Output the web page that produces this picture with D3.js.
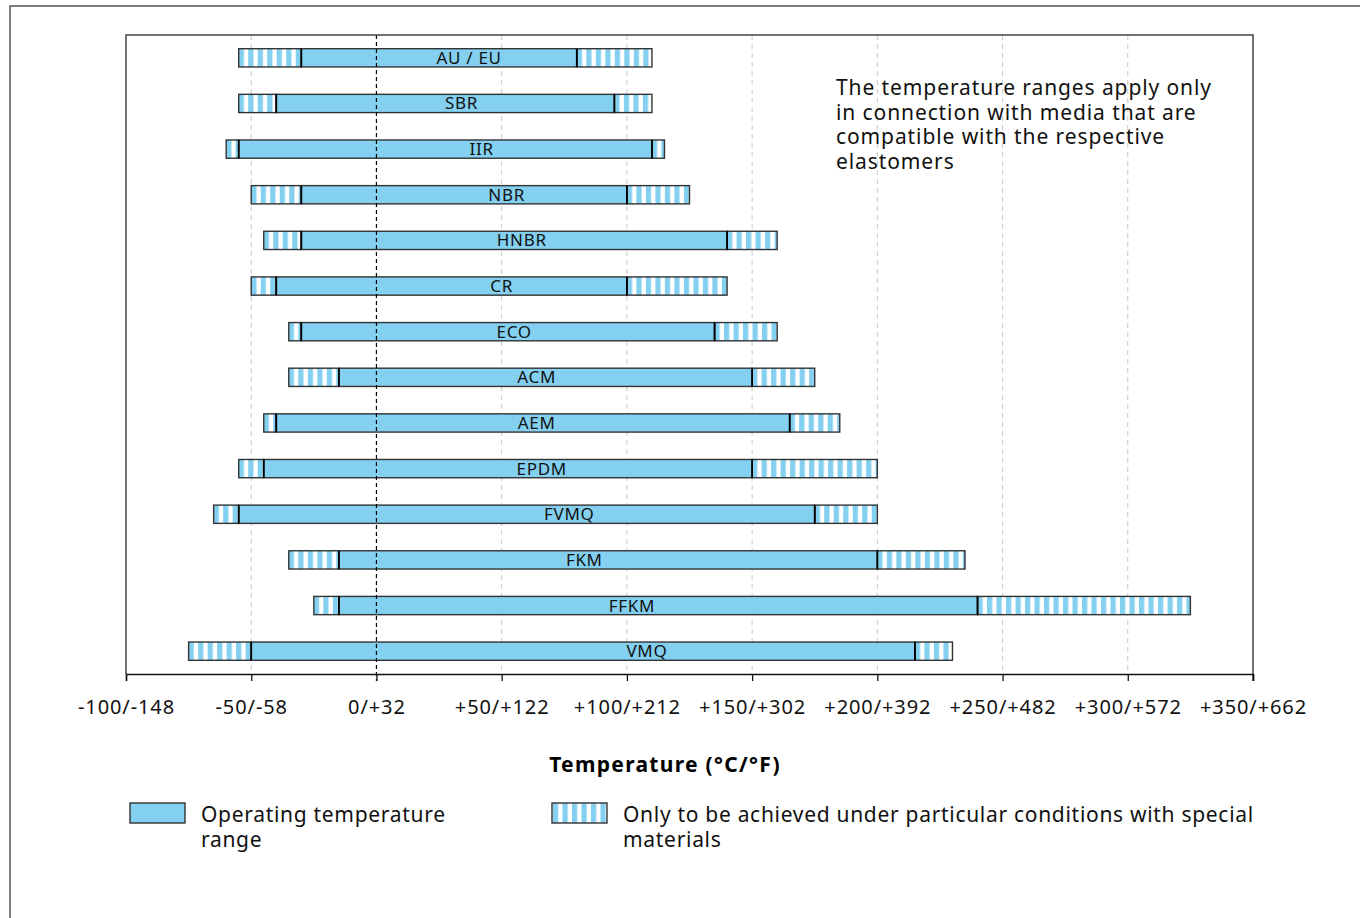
<!DOCTYPE html>
<html>
<head>
<meta charset="utf-8">
<script src="https://cdn.jsdelivr.net/npm/d3@7"></script>
<style>
  body { margin: 0; background: #fff; }
  svg { display: block; font-family: "Noto Sans", "Open Sans", sans-serif; }
</style>
</head>
<body>
<svg id="chart" width="1360" height="918"></svg>
<script>
// elastomer temperature ranges in °C
const materials = ["AU / EU", "SBR", "IIR", "NBR", "HNBR", "CR", "ECO", "ACM", "AEM", "EPDM", "FVMQ", "FKM", "FFKM", "VMQ"];
const specialLow = [-55, -55, -60, -50, -45, -50, -35, -35, -45, -55, -65, -35, -25, -75];
const operatingLow = [-30, -40, -55, -30, -30, -40, -30, -15, -40, -45, -55, -15, -15, -50];
const operatingHigh = [80, 95, 110, 100, 140, 100, 135, 150, 165, 150, 175, 200, 240, 215];
const specialHigh = [110, 110, 115, 125, 160, 140, 160, 175, 185, 200, 200, 235, 325, 230];
// where the name sits along each bar (°C)
const labelAt = [37, 34, 42, 52, 58, 50, 55, 64, 64, 66, 77, 83, 102, 108];

const tickValues = [-100, -50, 0, 50, 100, 150, 200, 250, 300, 350];
const tickLabels = ["-100/-148", "-50/-58", "0/+32", "+50/+122", "+100/+212", "+150/+302",
                    "+200/+392", "+250/+482", "+300/+572", "+350/+662"];

const note = ["The temperature ranges apply only", "in connection with media that are",
              "compatible with the respective", "elastomers"];
const legendItems = [
    { kind: "operating", lines: ["Operating temperature", "range"] },
    { kind: "special", lines: ["Only to be achieved under particular conditions with special", "materials"] },
];

const blue = "#83d0f0";
const edge = "#333";

const svg = d3.select("#chart");
const defs = svg.append("defs");

const plot = { left: 126, right: 1253, top: 35, bottom: 674 };

const x = d3.scaleLinear().domain([-100, 350]).range([plot.left, plot.right]);
const y = d3.scaleBand().domain(materials).range([plot.top, plot.bottom])
    .paddingInner(0.6).paddingOuter(0.3);

// outer frame (runs off the page to the right and bottom)
svg.append("rect")
    .attr("x", 10).attr("y", 6)
    .attr("width", 1400).attr("height", 1000)
    .attr("fill", "none").attr("stroke", "#555").attr("stroke-width", 1.5);

// grid
svg.append("g").selectAll("line")
    .data(tickValues.filter((t) => t !== 0 && t !== -100 && t !== 350))
    .join("line")
    .attr("x1", (d) => x(d)).attr("x2", (d) => x(d))
    .attr("y1", plot.top).attr("y2", plot.bottom)
    .attr("stroke", "#c8c8c8").attr("stroke-width", 1)
    .attr("stroke-dasharray", "5,4");

// striped fill, one pattern per segment so every segment starts on blue
const stripe = (id, x0) => {
    const p = defs.append("pattern")
        .attr("id", id)
        .attr("patternUnits", "userSpaceOnUse")
        .attr("x", x0).attr("y", 0)
        .attr("width", 9.5).attr("height", 918);
    p.append("rect").attr("width", 9.5).attr("height", 918).attr("fill", blue);
    p.append("rect").attr("x", 5.2).attr("width", 4.3).attr("height", 918).attr("fill", "#fff");
    return `url(#${id})`;
};

const rows = materials.map((name, i) => ({
    name,
    i,
    sLo: specialLow[i],
    oLo: operatingLow[i],
    oHi: operatingHigh[i],
    sHi: specialHigh[i],
    at: labelAt[i],
}));

const bars = svg.append("g").selectAll("g")
    .data(rows)
    .join("g")
    .attr("transform", (d) => `translate(0,${y(d.name)})`);

bars.append("rect")
    .attr("x", (d) => x(d.sLo))
    .attr("width", (d) => x(d.oLo) - x(d.sLo))
    .attr("height", y.bandwidth())
    .attr("fill", (d) => stripe(`sl${d.i}`, x(d.sLo)))
    .attr("stroke", edge).attr("stroke-width", 1.4);

bars.append("rect")
    .attr("x", (d) => x(d.oHi))
    .attr("width", (d) => x(d.sHi) - x(d.oHi))
    .attr("height", y.bandwidth())
    .attr("fill", (d) => stripe(`sh${d.i}`, x(d.oHi)))
    .attr("stroke", edge).attr("stroke-width", 1.4);

bars.append("rect")
    .attr("x", (d) => x(d.oLo))
    .attr("width", (d) => x(d.oHi) - x(d.oLo))
    .attr("height", y.bandwidth())
    .attr("fill", blue)
    .attr("stroke", edge).attr("stroke-width", 1.4);

// dividers between operating and special ranges
bars.selectAll("line.div")
    .data((d) => [d.oLo, d.oHi])
    .join("line")
    .attr("class", "div")
    .attr("x1", (v) => x(v)).attr("x2", (v) => x(v))
    .attr("y1", 0).attr("y2", y.bandwidth())
    .attr("stroke", "#000").attr("stroke-width", 1.8);

// zero line on top of the bars
svg.append("line")
    .attr("x1", x(0)).attr("x2", x(0))
    .attr("y1", plot.top).attr("y2", plot.bottom + 7)
    .attr("stroke", "#000").attr("stroke-width", 1.2)
    .attr("stroke-dasharray", "4,3");

bars.append("text")
    .attr("x", (d) => x(d.at))
    .attr("y", y.bandwidth() / 2 + 6)
    .attr("text-anchor", "middle")
    .attr("font-size", 17)
    .attr("letter-spacing", 0.7)
    .attr("fill", "#111")
    .text((d) => d.name);

// plot frame
svg.append("path")
    .attr("d", `M${plot.left},${plot.bottom}V${plot.top}H${plot.right}V${plot.bottom + 7}`)
    .attr("fill", "none").attr("stroke", "#444").attr("stroke-width", 1.5);

// x axis
const axis = svg.append("g")
    .attr("transform", `translate(0,${plot.bottom})`)
    .call(d3.axisBottom(x)
        .tickValues(tickValues)
        .tickSize(7)
        .tickPadding(19)
        .tickFormat((d, i) => tickLabels[i]));
axis.select(".domain").attr("stroke", "#111").attr("stroke-width", 1.5);
axis.selectAll(".tick line").attr("stroke", "#111").attr("stroke-width", 1.3);
axis.selectAll(".tick text")
    .attr("font-size", 20)
    .attr("letter-spacing", 0.9)
    .attr("font-family", "'Noto Sans', sans-serif")
    .attr("fill", "#111");

svg.append("text")
    .attr("x", 665).attr("y", 772)
    .attr("text-anchor", "middle")
    .attr("font-size", 21).attr("font-weight", "bold")
    .attr("letter-spacing", 1.3)
    .attr("fill", "#000")
    .text("Temperature (°C/°F)");

// note in the upper right, one text block with a tspan per line
svg.append("text")
    .attr("x", 836).attr("y", 95)
    .attr("font-size", 21)
    .attr("letter-spacing", 0.9)
    .attr("fill", "#111")
    .selectAll("tspan")
    .data(note)
    .join("tspan")
    .attr("x", 836)
    .attr("dy", (d, i) => i === 0 ? 0 : 24.5)
    .text((d) => d);

// legend
const legendX = [130, 552];
const legend = svg.append("g").selectAll("g")
    .data(legendItems)
    .join("g")
    .attr("transform", (d, i) => `translate(${legendX[i]},803)`);

legend.append("rect")
    .attr("width", 55).attr("height", 20)
    .attr("fill", (d, i) => d.kind === "operating" ? blue : stripe(`lg${i}`, legendX[i]))
    .attr("stroke", edge).attr("stroke-width", 1.4);

legend.append("text")
    .attr("x", 71).attr("y", 19)
    .attr("font-size", 21)
    .attr("letter-spacing", 0.7)
    .attr("fill", "#111")
    .selectAll("tspan")
    .data((d) => d.lines)
    .join("tspan")
    .attr("x", 71)
    .attr("dy", (d, i) => i === 0 ? 0 : 25)
    .text((d) => d);
</script>
</body>
</html>
